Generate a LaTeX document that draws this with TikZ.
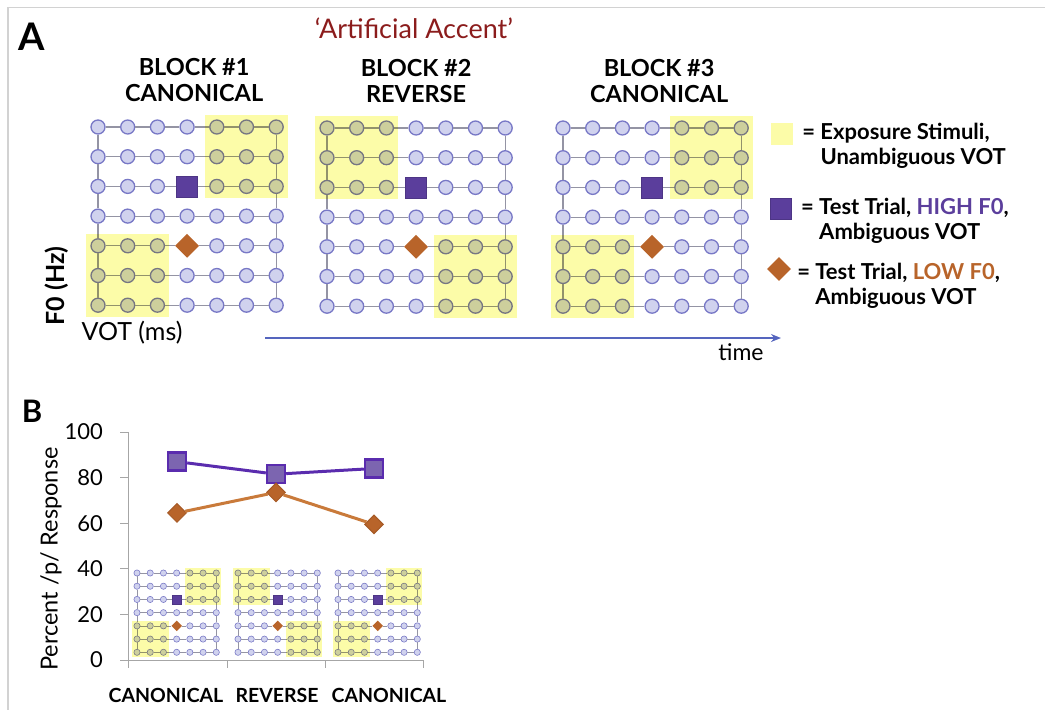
\documentclass[tikz,border=0pt]{standalone}
\usepackage{fontspec}
\setmainfont{Lato}
\usetikzlibrary{positioning,fit,shapes.geometric,arrows.meta}

\definecolor{stimfill}{HTML}{D0D2EE}
\definecolor{stimdraw}{HTML}{7878C6}
\definecolor{gridgray}{HTML}{9494A4}
\definecolor{expoyellow}{HTML}{FCFCA8}
\definecolor{highfo}{HTML}{5B3E9C}
\definecolor{lowfo}{HTML}{B8642A}
\definecolor{accentred}{HTML}{8B1C1C}
\definecolor{timeblue}{HTML}{5565BE}
\definecolor{highline}{HTML}{5A2CAE}
\definecolor{lowline}{HTML}{C97A3A}

% 7x7 stimulus grid: #1 name, #2,#3 origin, #4 scale, #5,#6 first column of upper/lower exposure box
\newcommand{\stimgrid}[6]{%
  \def\gs{#4}
  \foreach \i in {1,...,7}{
    \foreach \j in {1,...,7}{
      \def\kind{stim}
      \ifnum\i=4 \ifnum\j=3 \def\kind{hightest}\fi\ifnum\j=5 \def\kind{lowtest}\fi\fi
      \node[\kind] (#1-\i-\j) at ({#2+(\i-1)*29.7*#4},{#3+(\j-1)*29.7*#4}) {};
    }
  }
  \foreach \i [count=\k from 2] in {1,...,6}{
    \foreach \j in {1,...,7}
      \draw[gridline] (#1-\i-\j) -- (#1-\k-\j);
    \draw[gridline] (#1-1-\i) -- (#1-1-\k);
    \draw[gridline] (#1-7-\i) -- (#1-7-\k);
  }
  \pgfmathtruncatemacro\topend{#5+2}
  \pgfmathtruncatemacro\botend{#6+2}
  \begin{scope}[blend mode=multiply]
    \node[expo, fit=(#1-#5-1)(#1-\topend-3)] (#1-upper) {};
    \node[expo, fit=(#1-#6-5)(#1-\botend-7)] (#1-lower) {};
  \end{scope}
}

\begin{document}
\begin{tikzpicture}[x=1pt,y=-1pt]
\tikzset{
  stim/.style={circle,draw=stimdraw,fill=stimfill,inner sep=0pt,minimum size=14*\gs,line width=1.3*\gs},
  hightest/.style={rectangle,fill=highfo,draw=highfo!85!black,inner sep=0pt,minimum size=21*\gs,line width=0.8*\gs},
  lowtest/.style={diamond,fill=lowfo,inner sep=0pt,minimum size=24*\gs},
  gridline/.style={draw=gridgray,line width=1.2*\gs},
  expo/.style={fill=expoyellow,inner sep=4*\gs},
  blocktitle/.style={font=\bfseries\fontsize{23.5}{26}\selectfont,align=center,inner sep=0pt},
  keytext/.style={font=\bfseries\fontsize{22}{25}\selectfont,align=left,inner sep=0pt},
  axislabel/.style={font=\fontsize{22}{24}\selectfont,inner sep=0pt},
  catlabel/.style={font=\bfseries\fontsize{19.5}{20}\selectfont,inner sep=0pt},
  axisline/.style={draw=gray!70,line width=1pt},
  highmark/.style={rectangle,fill=highfo!80!white,draw=highline,line width=2.4pt,minimum size=18pt,inner sep=0pt},
  lowmark/.style={diamond,fill=lowfo,draw=lowfo!90!black,line width=1pt,minimum size=19pt,inner sep=0pt},
}
\useasboundingbox (0,0) rectangle (1045,710);
\draw[gray!35,line width=1.5pt] (8,710) -- (8,7.5) -- (1045,7.5);

% panel A
\node[font=\bfseries\fontsize{38}{40}\selectfont,inner sep=0pt] (panelA) at (32,37) {A};
\node[font=\fontsize{27}{30}\selectfont,text=accentred,inner sep=0pt] (accent) at (414,28) {‘Artificial Accent’};

\stimgrid{g1}{98}{127}{1}{5}{1}
\stimgrid{g2}{327}{128}{1}{1}{5}
\stimgrid{g3}{563}{128}{1}{5}{1}

\node[blocktitle, above=17pt of g1-4-1, xshift=7pt] (title1) {BLOCK \#1\\CANONICAL};
\node[blocktitle, above=17pt of g2-4-1] (title2) {BLOCK \#2\\REVERSE};
\node[blocktitle, above=17pt of g3-4-1, xshift=7pt] (title3) {BLOCK \#3\\CANONICAL};

\node[axislabel, font=\bfseries\fontsize{25}{26}\selectfont, rotate=90] (f0label) at (57,286) {F0 (Hz)};
\node[axislabel, font=\fontsize{25}{26}\selectfont] (votlabel) at (132,333) {VOT (ms)};

\coordinate (timestart) at (265,338);
\coordinate (timeend) at (781,338);
\draw[timeblue, line width=2pt, -{Stealth[length=10pt,width=8pt]}] (timestart) -- (timeend);
\node[axislabel, font=\fontsize{23}{24}\selectfont] (timelabel) at (741,352) {time};

% key
\def\gs{1}
\node[expo, inner sep=0pt, minimum size=22pt] (keyexpo) at (782,134) {};
\node[hightest] (keyhigh) at (781,209) {};
\node[lowtest] (keylow) at (779,269) {};
\node[keytext, right=9pt of keyexpo.north east, anchor=north west] (keyexpotext)
  {= Exposure Stimuli,\\\phantom{= }Unambiguous VOT};
\node[keytext, right=9pt of keyhigh.north east, anchor=north west] (keyhightext)
  {= Test Trial, \textcolor{highfo}{HIGH F0},\\\phantom{= }Ambiguous VOT};
\node[keytext, right=12pt of keylow.north east, anchor=north west] (keylowtext)
  {= Test Trial, \textcolor{lowfo}{LOW F0},\\\phantom{= }Ambiguous VOT};

% panel B
\node[font=\bfseries\fontsize{31}{33}\selectfont,inner sep=0pt] (panelB) at (32,411) {B};
\node[axislabel, font=\fontsize{23.5}{24}\selectfont, rotate=90] (ylabel) at (51,559) {Percent /p/ Response};

\stimgrid{m1}{137}{573}{0.445}{5}{1}
\stimgrid{m2}{238}{573}{0.445}{1}{5}
\stimgrid{m3}{338}{573}{0.445}{5}{1}

\begin{scope}[shift={(128,660)},y=2.28pt]
  \draw[axisline] (0,100) -- (0,0) -- (295,0);
  \foreach \v in {0,20,...,100}{
    \draw[axisline] (0,\v) -- (-8,\v);
    \node[axislabel, anchor=east] (tick\v) at (-25,\v) {\v};
  }
  \foreach \x in {0,99,197,295}
    \draw[axisline] (\x,0) -- (\x,-3.5);
  \node[highmark] (h1) at (49,87) {};
  \node[highmark] (h2) at (148,81.5) {};
  \node[highmark] (h3) at (246,84) {};
  \node[lowmark] (l1) at (49,64.5) {};
  \node[lowmark] (l2) at (148,73.5) {};
  \node[lowmark] (l3) at (246,59.5) {};
  \draw[highline, line width=3pt] (h1) -- (h2) -- (h3);
  \draw[lowline, line width=3pt] (l1) -- (l2) -- (l3);
\end{scope}

\node[catlabel] (cat1) at (166,695) {CANONICAL};
\node[catlabel] (cat2) at (277,695) {REVERSE};
\node[catlabel] (cat3) at (389,695) {CANONICAL};
\end{tikzpicture}
\end{document}
